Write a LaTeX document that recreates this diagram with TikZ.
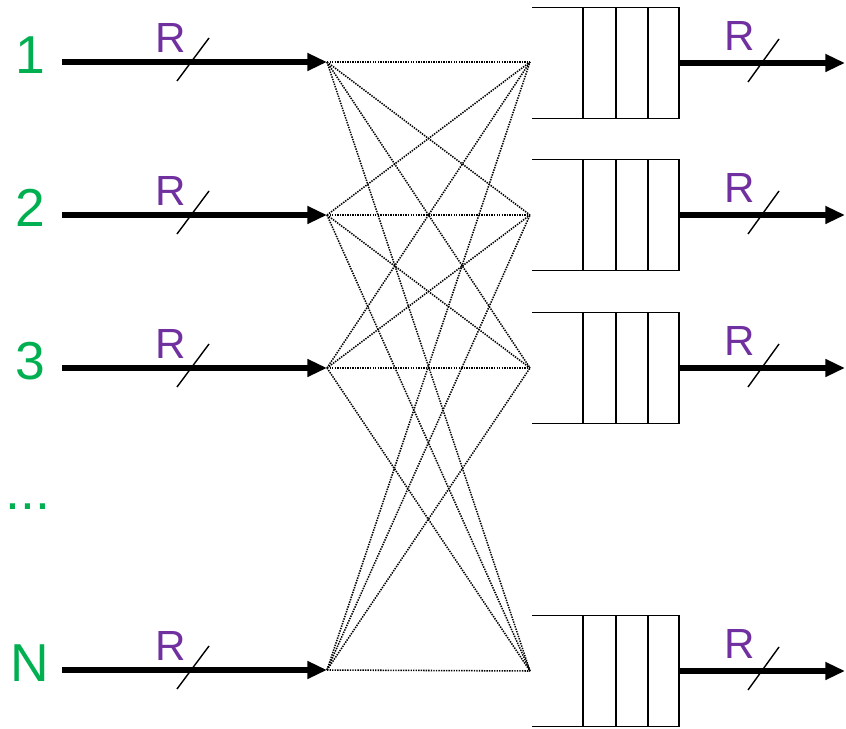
\documentclass[tikz,border=0pt]{standalone}
\usepackage{fontspec}
\setmainfont{Liberation Sans}
\usetikzlibrary{arrows.meta, positioning}
\definecolor{verde}{HTML}{00B050}
\definecolor{morado}{HTML}{7030A0}
\tikzset{
  enlace/.style={line width=3.6pt, -{Triangle[length=14pt,width=12pt]}},
  barra/.style={line width=1pt},
  cruce/.style={line width=1.1pt, dash pattern=on 1pt off 0.8pt},
  cola/.style={line width=1.4pt},
  puerto/.style={font=\fontsize{38}{40}\selectfont, text=verde, anchor=base, inner sep=0pt},
  tasa/.style={font=\fontsize{30}{32}\selectfont, text=morado, anchor=base, inner sep=0pt}
}
% cola de salida: #1 = nombre, #2 = altura de la fila
\newcommand{\cola}[2]{
    \draw[cola] (13.3, #2+1.3875) -- (16.975, #2+1.3875) -- (16.975, #2-1.3875) -- (13.3, #2-1.3875);
    \foreach \x in {14.575, 15.4, 16.2} {
        \draw[cola] (\x, #2+1.3875) -- (\x, #2-1.3875);
    }
    \coordinate (#1) at (16.975, #2);
}

\begin{document}
\begin{tikzpicture}
    \useasboundingbox (0,0) rectangle (21.15,-18.225);

    % ==========================================
    % 1. Entradas (lado izquierdo)
    % ==========================================
    \foreach \i/\lab/\y in {1/1/-1.55, 2/2/-5.375, 3/3/-9.2, 4/N/-16.75} {
        \node[puerto] (p\i) at (0.75, \y-0.29) {\lab};
        \coordinate (a\i) at (1.55, \y);
        \coordinate (b\i) at (8.175, \y);
        \draw[enlace] (a\i) -- (b\i);
        \draw[barra] (4.425, \y-0.475) -- (5.225, \y+0.6);
        \node[tasa] (r\i) at (4.275, \y+0.225) {R};
    }
    \node[puerto] (pdots) at (0.7, -12.75) {...};

    % ==========================================
    % 2. Conmutador (lineas punteadas)
    % ==========================================
    \foreach \j/\y in {1/-1.55, 2/-5.375, 3/-9.2, 4/-16.775} {
        \coordinate (c\j) at (13.25, \y);
    }
    \foreach \i in {1,2,3,4} {
        \foreach \j in {1,2,3,4} {
            \draw[cruce] (b\i) -- (c\j);
        }
    }

    % ==========================================
    % 3. Colas y salidas (lado derecho)
    % ==========================================
    \foreach \i/\y in {1/-1.575, 2/-5.375, 3/-9.2, 4/-16.775} {
        \cola{q\i}{\y}
        \coordinate (o\i) at (21.125, \y);
        \draw[enlace] (q\i) -- (o\i);
        \draw[barra] (18.7, \y-0.475) -- (19.475, \y+0.6);
        \node[tasa] (s\i) at (18.5, \y+0.3) {R};
    }
\end{tikzpicture}
\end{document}
